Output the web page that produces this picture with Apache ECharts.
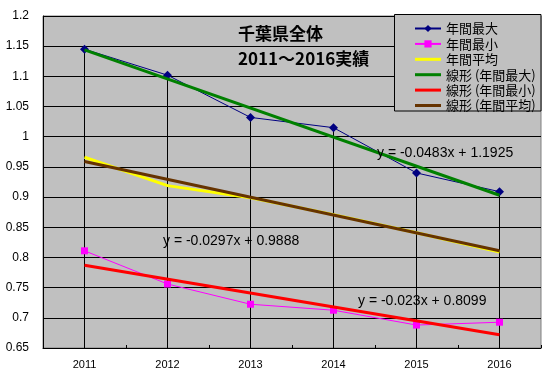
<!DOCTYPE html>
<html><head><meta charset="utf-8">
<script src="https://cdn.jsdelivr.net/npm/echarts@6/dist/echarts.min.js"></script>
<style>html,body{margin:0;padding:0;background:#fff}#c{width:547px;height:379px}</style>
</head><body><div id="c"></div>
<script>
const categories = ['2011','2012','2013','2014','2015','2016'];
const maxValues = [1.145, 1.102, 1.032, 1.015, 0.940, 0.909];
const minValues = [0.811, 0.756, 0.7225, 0.7126, 0.688, 0.6927];
const avgValues = [0.966, 0.919, 0.899, 0.871, 0.841, 0.809];
// trend lines read at the first and last category
const trendMax = [1.144, null, null, null, null, 0.903];
const trendMin = [0.787, null, null, null, null, 0.672];
const trendAvg = [0.959, null, null, null, null, 0.811];
const seriesNames = ['年間最大','年間最小','年間平均','線形 (年間最大)','線形 (年間最小)','線形 (年間平均)'];
const equations = ['y = -0.0483x + 1.1925','y = -0.0297x + 0.9888','y = -0.023x + 0.8099'];
const titleLines = ['千葉県全体','2011～2016実績'];
const yMin = 0.65, yMax = 1.2, yStep = 0.05;

const chart = echarts.init(document.getElementById('c'), null, {renderer:'canvas'});
const font = '"Noto Sans CJK JP", "Liberation Sans", sans-serif';
const numFont = '"Liberation Sans", Arial, sans-serif';
const lineIcon = 'path://M0,0H26V3H0Z';

const dropLines = maxValues.map((v,i)=>[{coord:[categories[i], v]},{coord:[categories[i], yMin]}]);

chart.setOption({
  animation:false,
  backgroundColor:'#fff',
  textStyle:{fontFamily:font},
  grid:{left:43, right:6, top:16, bottom:31, show:true, backgroundColor:'#C0C0C0', borderColor:'#808080', borderWidth:1},
  xAxis:{type:'category', data:categories, boundaryGap:true,
    axisLine:{lineStyle:{color:'#000', width:1}},
    axisTick:{show:true, inside:true, length:3, lineStyle:{color:'#000'}},
    axisLabel:{color:'#000', fontSize:11, fontFamily:numFont, margin:11},
    splitLine:{show:false}},
  yAxis:{type:'value', min:yMin, max:yMax, interval:yStep,
    axisLine:{show:true, lineStyle:{color:'#000', width:1}},
    axisTick:{show:false},
    axisLabel:{color:'#000', fontSize:12, fontFamily:numFont, margin:14,
      formatter:v=>String(parseFloat(v.toFixed(2)))},
    splitLine:{show:true, lineStyle:{color:'#000', width:1}}},
  legend:{orient:'vertical', left:409, top:17, itemWidth:26, itemHeight:9, itemGap:2.4,
    data:[
      {name:seriesNames[0]},
      {name:seriesNames[1]},
      {name:seriesNames[2], icon:lineIcon},
      {name:seriesNames[3], icon:lineIcon},
      {name:seriesNames[4], icon:lineIcon},
      {name:seriesNames[5], icon:lineIcon}
    ],
    textStyle:{color:'#000', fontSize:13, fontFamily:font, lineHeight:13}},
  graphic:[
    {type:'rect', z:3, shape:{x:394.5, y:14.5, width:146.5, height:96.5},
      style:{fill:'#C0C0C0', stroke:'#000', lineWidth:1}},
    {type:'text', z:5, left:238, top:25, style:{text:titleLines[0], font:'bold 17px '+font, fill:'#000'}},
    {type:'text', z:5, left:238, top:50, style:{text:titleLines[1], font:'bold 17px '+font, fill:'#000', letterSpacing:1.5}},
    {type:'text', z:5, left:377, top:146, style:{text:equations[0], font:'14px '+numFont, fill:'#000'}},
    {type:'text', z:5, left:163, top:234, style:{text:equations[1], font:'14px '+numFont, fill:'#000'}},
    {type:'text', z:5, left:358, top:294, style:{text:equations[2], font:'14px '+numFont, fill:'#000'}}
  ],
  series:[
    {name:seriesNames[0], type:'line', data:maxValues, symbol:'diamond', symbolSize:9,
      itemStyle:{color:'#000080'}, lineStyle:{color:'#000080', width:1}, z:3,
      markLine:{silent:true, symbol:['none','none'], label:{show:false}, z:1,
        lineStyle:{color:'#000', width:1, type:'solid'}, emphasis:{disabled:true}, data:dropLines}},
    {name:seriesNames[1], type:'line', data:minValues, symbol:'rect', symbolSize:7,
      itemStyle:{color:'#FF00FF'}, lineStyle:{color:'#FF00FF', width:1}, z:3},
    {name:seriesNames[2], type:'line', data:avgValues, symbol:'none',
      itemStyle:{color:'#FFFF00'}, lineStyle:{color:'#FFFF00', width:3}, z:3},
    {name:seriesNames[3], type:'line', data:trendMax, connectNulls:true, symbol:'none',
      itemStyle:{color:'#008000'}, lineStyle:{color:'#008000', width:3}, z:4},
    {name:seriesNames[4], type:'line', data:trendMin, connectNulls:true, symbol:'none',
      itemStyle:{color:'#FF0000'}, lineStyle:{color:'#FF0000', width:3}, z:4},
    {name:seriesNames[5], type:'line', data:trendAvg, connectNulls:true, symbol:'none',
      itemStyle:{color:'#663300'}, lineStyle:{color:'#663300', width:3}, z:4}
  ]
});
</script></body></html>
